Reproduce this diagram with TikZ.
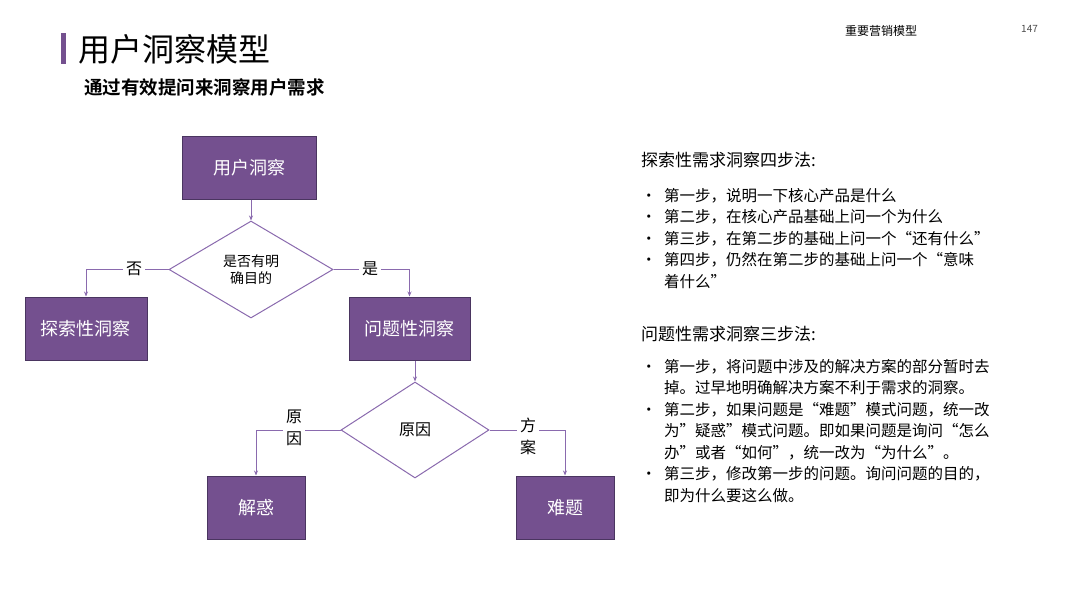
\documentclass[tikz,border=0pt]{standalone}
\usepackage{fontspec}
\setmainfont{Noto Sans CJK SC}
\newfontfamily\cjkb{Noto Sans CJK SC Bold}
\usetikzlibrary{shapes.geometric,arrows.meta}
\definecolor{pfill}{HTML}{74508F}
\definecolor{pline}{HTML}{8A6AAE}
\definecolor{pdark}{HTML}{4A3560}
\begin{document}
\begin{tikzpicture}[x=1pt,y=-1pt,
 box/.style={draw=pdark,line width=1pt,fill=pfill,text=white,font=\fontsize{18}{20}\selectfont,inner sep=0pt},
 dia/.style={draw=pline,line width=1pt,fill=white,diamond,inner sep=0pt,align=center,font=\fontsize{14}{17}\selectfont},
 conn/.style={draw=pline,line width=0.9pt,-{Stealth[length=5pt,width=4pt]}},
 lbl/.style={fill=white,font=\fontsize{16}{19}\selectfont,align=center,inner sep=3pt},
 bul/.style={anchor=north west,inner sep=0pt,font=\fontsize{15.5}{21.5}\selectfont,text width=392pt,align=left}]
\useasboundingbox (0,0) rectangle (1080,608);
\fill[pfill] (61,33) rectangle (66,64) ;
\node[anchor=west,inner sep=0pt,font=\fontsize{32}{36}\selectfont] (title) at (78,49) {用户洞察模型};
\node[anchor=west,inner sep=0pt,font=\cjkb\fontsize{18.5}{20}\selectfont] (sub) at (84,87) {通过有效提问来洞察用户需求};
\node[anchor=west,inner sep=0pt,font=\fontsize{12}{14}\selectfont] (hdr) at (845,31) {重要营销模型};
\node[anchor=west,inner sep=0pt,font=\fontsize{10}{12}\selectfont,text=black!70] (pg) at (1021,29) {147};

\node[box,minimum width=134pt,minimum height=63pt] (a) at (249,167.5) {用户洞察};
\node[dia,minimum width=164pt,minimum height=97pt] (d1) at (251,269.5) {是否有明\\确目的};
\node[box,minimum width=122pt,minimum height=63pt] (b) at (86,328.5) {探索性洞察};
\node[box,minimum width=121pt,minimum height=63pt] (c) at (409.5,328.5) {问题性洞察};
\node[dia,minimum width=148pt,minimum height=96pt,font=\fontsize{16}{19}\selectfont] (d2) at (415,430) {原因};
\node[box,minimum width=98pt,minimum height=63pt] (e) at (256,507.5) {解惑};
\node[box,minimum width=98pt,minimum height=63pt] (f) at (565,507.5) {难题};

\draw[conn] (d1.north |- a.south) -- (d1.north);
\draw[conn] (d1.west) -| (b.north);
\draw[conn] (d1.east) -| (c.north);
\draw[conn] (d2.north |- c.south) -- (d2.north);
\draw[conn] (d2.west) -| (e.north);
\draw[conn] (d2.east) -| (f.north);
\node[lbl] (l1) at (134,269) {否};
\node[lbl] (l2) at (370,269) {是};
\node[lbl,font=\fontsize{16}{22}\selectfont] (l3) at (294,428) {原\\因};
\node[lbl,font=\fontsize{16}{22}\selectfont] (l4) at (528,436) {方\\案};

\node[anchor=west,inner sep=0pt,font=\fontsize{17}{20}\selectfont] (h1) at (641,160) {探索性需求洞察四步法:};
\node[bul] (t1) at (641,188) {%
\makebox[23pt][l]{•}第一步，说明一下核心产品是什么\\
\makebox[23pt][l]{•}第二步，在核心产品基础上问一个为什么\\
\makebox[23pt][l]{•}第三步，在第二步的基础上问一个“还有什么”\\
\makebox[23pt][l]{•}第四步，仍然在第二步的基础上问一个“意味\\
\hspace*{23pt}着什么”};
\node[anchor=west,inner sep=0pt,font=\fontsize{17}{20}\selectfont] (h2) at (641,334) {问题性需求洞察三步法:};
\node[bul] (t2) at (641,359) {%
\makebox[23pt][l]{•}第一步，将问题中涉及的解决方案的部分暂时去\\
\hspace*{23pt}掉。过早地明确解决方案不利于需求的洞察。\\
\makebox[23pt][l]{•}第二步，如果问题是“难题”模式问题，统一改\\
\hspace*{23pt}为"疑惑”模式问题。即如果问题是询问“怎么\\
\hspace*{23pt}办”或者“如何”，统一改为“为什么”。\\
\makebox[23pt][l]{•}第三步，修改第一步的问题。询问问题的目的，\\
\hspace*{23pt}即为什么要这么做。};
\end{tikzpicture}
\end{document}
